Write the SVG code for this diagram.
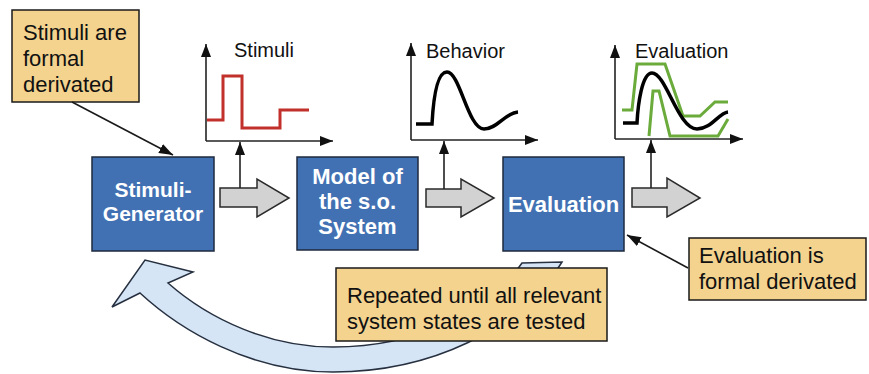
<svg xmlns="http://www.w3.org/2000/svg" width="869" height="374" viewBox="0 0 869 374">
  <style>
    .box { fill: #4271b3; stroke: #1e2a3e; stroke-width: 1.5; }
    .boxtxt { font-family: "Liberation Sans", Arial, sans-serif; font-weight: bold; fill: #ffffff; text-anchor: middle; }
    .note { fill: #f4d38f; stroke: #1a1a1a; stroke-width: 1.5; }
    .notetxt { font-family: "Liberation Sans", Arial, sans-serif; font-size: 22px; fill: #111111; }
    .label { font-family: "Liberation Sans", Arial, sans-serif; font-size: 20px; fill: #111111; }
    .axis { fill: none; stroke: #222222; stroke-width: 1.6; marker-end: url(#axhead); }
    .flow { fill: #d2d2d2; stroke: #2a2a2a; stroke-width: 1.5; stroke-linejoin: miter; }
    .tap { fill: none; stroke: #222222; stroke-width: 1.6; marker-end: url(#axhead); }
    .pointer { fill: none; stroke: #1a1a1a; stroke-width: 1.6; marker-end: url(#ptrhead); }
  </style>
  <defs>
    <marker id="axhead" markerUnits="userSpaceOnUse" markerWidth="13" markerHeight="10" refX="13" refY="5" orient="auto">
      <path d="M0,0 L13,5 L0,10 Z" fill="#111111"/>
    </marker>
    <marker id="ptrhead" markerUnits="userSpaceOnUse" markerWidth="14" markerHeight="10" refX="14" refY="5" orient="auto">
      <path d="M0,0 L14,5 L0,10 Z" fill="#111111"/>
    </marker>
  </defs>

  <rect width="869" height="374" fill="#ffffff"/>

  <!-- feedback loop band (drawn first so the note sits over it) -->
  <g id="loop-arrow">
    <path d="M562,262 C520,330 430,372 333,372 C250,372 180,330 140,293 L112,307 L145,260 L193,272 L168,283 C210,320 270,347 333,347 C420,347 490,310 522,263 Z" fill="#d5e5f5" stroke="#263040" stroke-width="1.5" stroke-linejoin="miter"/>
  </g>

  <!-- signal plots -->
  <g id="plot-stimuli">
    <path class="axis" d="M206,141 V44"/>
    <path class="axis" d="M206,141 H333"/>
    <text class="label" x="234" y="57" font-size="21">Stimuli</text>
    <path d="M207,120 H223 V76 H242 V128 H280 V110 H309" fill="none" stroke="#c1302b" stroke-width="3"/>
  </g>

  <g id="plot-behavior">
    <path class="axis" d="M411,140 V43"/>
    <path class="axis" d="M411,140 H538"/>
    <text class="label" x="426" y="58">Behavior</text>
    <path d="M416,124 H432 C433,105 436,72 447,72 C460,72 468,129 484,129 C497,129 505,113 518,112" fill="none" stroke="#000000" stroke-width="3.5"/>
  </g>

  <g id="plot-evaluation">
    <path class="axis" d="M615,139 V45"/>
    <path class="axis" d="M615,139 H743"/>
    <text class="label" x="635" y="58">Evaluation</text>
    <path d="M622,110 H632 L637,64 H665 L683,116 H700 L715,102 H728" fill="none" stroke="#6aab3b" stroke-width="3"/>
    <path d="M649,136 L653,91 H659 L670,136 H718 L728,119" fill="none" stroke="#6aab3b" stroke-width="3"/>
    <path d="M623,123 H637 C638,104 642,73 652,73 C666,73 678,129 697,129 C711,129 719,113 728,112" fill="none" stroke="#000000" stroke-width="3.5"/>
  </g>

  <!-- processing blocks -->
  <g id="stimuli-generator">
    <rect class="box" x="92" y="157" width="122" height="94"/>
    <text class="boxtxt" font-size="21" x="153" y="197">Stimuli-</text>
    <text class="boxtxt" font-size="21" x="153" y="221">Generator</text>
  </g>

  <g id="model">
    <rect class="box" x="297" y="157" width="121" height="93"/>
    <text class="boxtxt" font-size="22" x="357.5" y="184">Model of</text>
    <text class="boxtxt" font-size="22" x="357.5" y="209">the s.o.</text>
    <text class="boxtxt" font-size="22" x="357.5" y="234">System</text>
  </g>

  <g id="evaluation">
    <rect class="box" x="503" y="157" width="121" height="94"/>
    <text class="boxtxt" font-size="22" x="563.5" y="212">Evaluation</text>
  </g>

  <!-- notes -->
  <g id="note-stimuli">
    <rect class="note" x="12" y="10" width="127" height="92"/>
    <text class="notetxt" x="23" y="40">Stimuli are</text>
    <text class="notetxt" x="23" y="66">formal</text>
    <text class="notetxt" x="23" y="92">derivated</text>
  </g>

  <g id="note-evaluation">
    <rect class="note" x="689" y="238" width="177" height="62"/>
    <text class="notetxt" x="699" y="263">Evaluation is</text>
    <text class="notetxt" x="699" y="289">formal derivated</text>
  </g>

  <g id="note-repeat">
    <rect class="note" x="336" y="268" width="271" height="73"/>
    <text class="notetxt" font-size="21.5" x="347" y="303">Repeated until all relevant</text>
    <text class="notetxt" font-size="21.5" x="347" y="329">system states are tested</text>
  </g>

  <!-- connectors -->
  <g id="connectors">
    <path class="flow" d="M220,188 H257 V179 L289,198 L257,217 V207 H220 Z"/>
    <path class="flow" d="M426,189 H461 V179 L494,198 L461,217 V207 H426 Z"/>
    <path class="flow" d="M632,188 H667 V178 L700,198 L667,217 V207 H632 Z"/>
    <path class="tap" d="M240,188 V142"/>
    <path class="tap" d="M444,189 V141"/>
    <path class="tap" d="M651,188 V140"/>
    <path class="pointer" d="M72,102 L173,155"/>
    <path class="pointer" d="M688,268 L627,235"/>
  </g>
</svg>
